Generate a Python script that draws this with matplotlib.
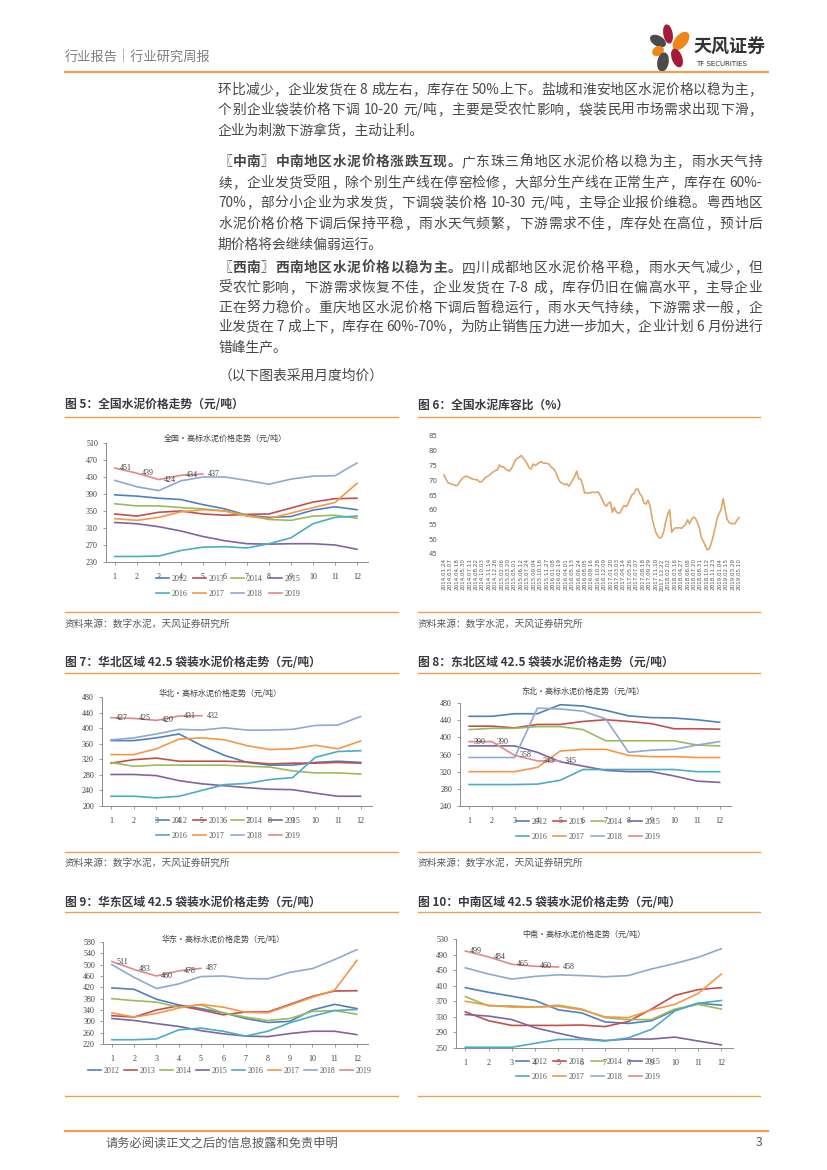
import re
import numpy as np
import matplotlib
matplotlib.use('Agg')
import matplotlib.pyplot as plt
from matplotlib.patches import Ellipse
from matplotlib.lines import Line2D

plt.rcParams['font.family'] = ['Noto Sans CJK SC', 'DejaVu Sans']

# ---------------- data ----------------
months = list(range(1, 13))
years = ['2012', '2013', '2014', '2015', '2016', '2017', '2018', '2019']
year_colors = ['#4F81BD', '#C0504D', '#9BBB59', '#8064A2',
               '#4BACC6', '#F79646', '#8EA9D2', '#E0898B']

# 全国 (2012 ... 2019)
national = [
    [388, 385, 380, 377, 365, 355, 340, 335, 337, 352, 360, 353],
    [343, 338, 347, 350, 343, 340, 342, 343, 357, 371, 379, 380],
    [367, 362, 362, 358, 355, 350, 340, 330, 328, 338, 340, 333],
    [323, 320, 313, 303, 290, 280, 273, 272, 273, 273, 270, 260],
    [243, 243, 244, 257, 265, 266, 263, 273, 287, 320, 335, 338],
    [332, 328, 335, 348, 353, 350, 338, 332, 345, 358, 370, 415],
    [422, 407, 398, 421, 430, 430, 422, 413, 425, 432, 433, 463],
    [451, 439, 424, 434, 437],
]
# 华北
north = [
    [368, 368, 375, 385, 355, 330, 312, 305, 305, 312, 315, 312],
    [310, 319, 323, 315, 315, 315, 313, 308, 310, 310, 312, 310],
    [312, 302, 305, 305, 305, 305, 302, 300, 290, 285, 285, 282],
    [281, 281, 278, 265, 257, 252, 247, 243, 242, 233, 225, 225],
    [225, 225, 221, 225, 240, 255, 258, 268, 273, 325, 340, 342],
    [332, 332, 347, 372, 375, 370, 355, 345, 347, 356, 347, 367],
    [370, 375, 385, 397, 395, 401, 395, 395, 397, 407, 408, 430],
    [427, 425, 420, 431, 432],
]
# 东北
northeast = [
    [449, 449, 455, 455, 476, 473, 463, 450, 446, 445, 441, 435],
    [426, 426, 422, 430, 430, 437, 441, 437, 432, 420, 420, 419],
    [418, 421, 421, 425, 425, 418, 392, 392, 392, 392, 382, 380],
    [380, 380, 380, 365, 343, 333, 323, 320, 320, 310, 298, 295],
    [290, 290, 290, 291, 300, 325, 325, 325, 325, 325, 320, 320],
    [320, 320, 320, 330, 368, 372, 372, 358, 355, 355, 353, 353],
    [353, 353, 353, 468, 466, 461, 443, 365, 370, 372, 382, 390],
    [390, 390, 358, 345, 345],
]
# 华东
east = [
    [418, 413, 378, 358, 345, 330, 310, 296, 300, 340, 360, 345],
    [320, 315, 340, 355, 340, 323, 333, 333, 360, 388, 407, 408],
    [380, 373, 368, 350, 358, 330, 315, 303, 310, 335, 338, 325],
    [310, 303, 292, 282, 267, 256, 248, 246, 257, 265, 265, 253],
    [235, 235, 238, 270, 276, 265, 248, 265, 295, 318, 338, 342],
    [330, 315, 328, 347, 360, 350, 332, 330, 357, 385, 410, 515],
    [500, 455, 416, 432, 458, 460, 451, 450, 473, 486, 518, 553],
    [511, 483, 460, 478, 487],
]
# 中南
central_south = [
    [405, 393, 383, 372, 348, 340, 317, 313, 320, 347, 365, 360],
    [343, 320, 308, 308, 308, 309, 305, 318, 350, 385, 400, 405],
    [382, 358, 358, 355, 360, 350, 328, 323, 323, 350, 362, 350],
    [336, 332, 323, 302, 288, 275, 269, 273, 273, 278, 268, 258],
    [252, 252, 252, 262, 272, 272, 268, 276, 298, 345, 365, 372],
    [370, 360, 355, 355, 357, 348, 330, 328, 348, 362, 390, 440],
    [456, 440, 427, 434, 438, 436, 433, 436, 453, 467, 483, 505],
    [499, 484, 465, 460, 458],
]

# 全国水泥库容比 (%)
inventory = [
    71.8, 70.4, 69.2, 68.9, 68.6, 68.5, 68.1, 68.4, 69.6, 70.4,
    71.0, 71.4, 71.2, 70.9, 70.5, 70.3, 70.2, 70.1, 69.4, 69.5,
    70.3, 71.0, 71.3, 71.8, 72.4, 72.9, 73.3, 73.5, 75.2, 74.5,
    74.6, 73.9, 73.4, 73.1, 73.9, 75.2, 76.7, 77.4, 77.8, 78.4,
    77.5, 76.7, 75.6, 74.2, 73.8, 75.5, 75.0, 75.4, 76.0, 76.3,
    75.9, 75.8, 75.7, 75.5, 74.5, 74.1, 73.3, 71.8, 70.1, 69.2,
    68.9, 68.5, 68.8, 68.0, 68.9, 70.2, 71.2, 73.1, 70.5, 70.4,
    68.6, 65.7, 65.8, 65.6, 65.8, 66.0, 65.8, 65.9, 66.0, 64.7,
    63.4, 61.8, 61.2, 62.2, 62.6, 59.2, 60.8, 59.3, 58.8, 59.0,
    60.5, 61.4, 61.0, 62.1, 63.7, 65.1, 65.5, 67.0, 67.0, 65.3,
    64.5, 62.3, 61.9, 63.2, 61.5, 57.5, 54.6, 52.4, 51.1, 50.4,
    50.7, 52.7, 56.0, 58.5, 60.0, 52.4, 53.4, 53.9, 53.8, 53.9,
    53.7, 54.4, 55.0, 56.6, 55.2, 56.7, 57.5, 57.1, 55.6, 53.8,
    50.5, 49.3, 47.7, 46.4, 46.8, 48.7, 51.1, 54.0, 57.3, 58.7,
    60.2, 63.8, 60.0, 56.8, 55.7, 55.3, 55.3, 55.3, 56.5, 57.3,
]
inventory_dates = [
    '2014.01.24', '2014.03.07', '2014.04.18', '2014.05.30', '2014.07.11',
    '2014.08.22', '2014.10.03', '2014.11.14', '2014.12.26', '2015.02.06',
    '2015.03.20', '2015.05.01', '2015.06.12', '2015.07.24', '2015.09.04',
    '2015.10.16', '2015.11.27', '2016.01.08', '2016.02.19', '2016.04.01',
    '2016.05.13', '2016.06.24', '2016.08.05', '2016.09.16', '2016.10.28',
    '2016.12.09', '2017.01.20', '2017.03.03', '2017.04.14', '2017.05.26',
    '2017.07.07', '2017.08.18', '2017.09.29', '2017.11.10', '2017.12.22',
    '2018.02.02', '2018.03.16', '2018.04.27', '2018.06.08', '2018.07.20',
    '2018.08.31', '2018.10.12', '2018.11.23', '2019.01.04', '2019.02.15',
    '2019.03.29', '2019.05.10',
]

paragraphs = [
    [[('环比减少，企业发货在 8 成左右，库存在 50%上下。盐城和淮安地区水泥价格以稳为主，', 'normal')],
     [('个别企业袋装价格下调 10-20 元/吨，主要是受农忙影响，袋装民用市场需求出现下滑，', 'normal')],
     [('企业为刺激下游拿货，主动让利。', 'normal')]],
    [[('〖中南〗中南地区水泥价格涨跌互现。', 'bold'), ('广东珠三角地区水泥价格以稳为主，雨水天气持', 'normal')],
     [('续，企业发货受阻，除个别生产线在停窑检修，大部分生产线在正常生产，库存在 60%-', 'normal')],
     [('70%，部分小企业为求发货，下调袋装价格 10-30 元/吨，主导企业报价维稳。粤西地区', 'normal')],
     [('水泥价格价格下调后保持平稳，雨水天气频繁，下游需求不佳，库存处在高位，预计后', 'normal')],
     [('期价格将会继续偏弱运行。', 'normal')]],
    [[('〖西南〗西南地区水泥价格以稳为主。', 'bold'), ('四川成都地区水泥价格平稳，雨水天气减少，但', 'normal')],
     [('受农忙影响，下游需求恢复不佳，企业发货在 7-8 成，库存仍旧在偏高水平，主导企业', 'normal')],
     [('正在努力稳价。重庆地区水泥价格下调后暂稳运行，雨水天气持续，下游需求一般，企', 'normal')],
     [('业发货在 7 成上下，库存在 60%-70%，为防止销售压力进一步加大，企业计划 6 月份进行', 'normal')],
     [('错峰生产。', 'normal')]],
]
para_rows = [[90, 110, 130], [162, 183, 203, 224, 245], [268, 288, 308, 327, 347]]

# ---------------- page ----------------
W, H = 827, 1170
ORANGE = '#EFA04C'
TXT = '#404040'
BODY = '#474747'
fig = plt.figure(figsize=(W / 100, H / 100), dpi=100)
bg = fig.add_axes([0, 0, 1, 1])
bg.set_xlim(0, W)
bg.set_ylim(H, 0)
bg.axis('off')
renderer = fig.canvas.get_renderer()


def px_axes(l, t, r, b):
    return fig.add_axes([l / W, 1 - b / H, (r - l) / W, (b - t) / H])


def rich(x, y, parts, size, color=TXT):
    t = bg.text(x, y, parts[0][0], fontsize=size, fontweight=parts[0][1],
                color=color, va='center', ha='left')
    for s, w in parts[1:]:
        t = bg.annotate(s, xy=(1, 0), xycoords=t, va='bottom', ha='left',
                        fontsize=size, fontweight=w, color=color)


def justified(x0, x1, y, parts, size, color=BODY):
    # one text per CJK glyph / ascii run, spread evenly over [x0, x1]
    items = []
    for s, w in parts:
        for tok in re.findall(r'[A-Za-z0-9%\-\./]+|\s|.', s):
            if tok.isspace():
                items.append((None, 3.5))
            else:
                t = bg.text(0, y, tok, fontsize=size, fontweight=w, color=color,
                            va='center', ha='left')
                items.append((t, t.get_window_extent(renderer).width))
    gap = (x1 - x0 - sum(w for _, w in items)) / (len(items) - 1)
    x = x0
    for t, w in items:
        if t is not None:
            t.set_x(x)
        x += w + gap


# header
bg.text(65, 57, '行业报告｜行业研究周报', fontsize=9.5, color='#808080', va='center')
bg.plot([65, 768], [72, 72], color=ORANGE, lw=1.6)
for (cx, cy, w, h, a, c) in [(668, 34, 8, 18, -10, '#A6193C'),
                             (681, 41, 11, 20, 40, '#F08519'),
                             (658, 41, 9, 16, -60, '#4B4B4B'),
                             (658, 51, 8, 11, 60, '#F08519'),
                             (663, 62, 10, 18, 10, '#4B4B4B'),
                             (677, 58, 9, 18, -20, '#A6193C')]:
    bg.add_patch(Ellipse((cx, cy), w, h, angle=a, color=c))
bg.text(694, 47, '天风证券', fontsize=13, fontweight='bold', color='#333333', va='center')
bg.text(696, 64, 'TF SECURITIES', fontsize=5, color='#333333', va='center',
        family='DejaVu Sans')

# body text
for lines, rows in zip(paragraphs, para_rows):
    for i, (parts, y) in enumerate(zip(lines, rows)):
        if i < len(lines) - 1:
            justified(218, 762, y, parts, 9.9)
        else:
            rich(218, y, parts, 9.9, color=BODY)
rich(218, 376, [('（以下图表采用月度均价）', 'normal')], 9.9, color=BODY)

# figure captions, rules and sources
captions = [(65, 405, '图 5：全国水泥价格走势（元/吨）'),
            (418, 405, '图 6：全国水泥库容比（%）'),
            (65, 663, '图 7：华北区域 42.5 袋装水泥价格走势（元/吨）'),
            (418, 663, '图 8：东北区域 42.5 袋装水泥价格走势（元/吨）'),
            (65, 902, '图 9：华东区域 42.5 袋装水泥价格走势（元/吨）'),
            (418, 902, '图 10：中南区域 42.5 袋装水泥价格走势（元/吨）')]
for x, y, s in captions:
    bg.text(x, y, s, fontsize=8.5, fontweight='bold', color='#3A3A3A', va='center')
for y in [417, 612, 673, 852, 912, 1096]:
    bg.plot([65, 398], [y, y], color=ORANGE, lw=1.0)
    bg.plot([418, 760], [y, y], color=ORANGE, lw=1.0)
for x in [65, 418]:
    for y in [624, 863]:
        bg.text(x, y, '资料来源：数字水泥，天风证券研究所', fontsize=7, color='#595959', va='center')

# footer
bg.plot([65, 768], [1131, 1131], color=ORANGE, lw=1.6)
bg.text(105, 1143, '请务必阅读正文之后的信息披露和免责申明', fontsize=8.8, color='#595959', va='center')
bg.text(762, 1143, '3', fontsize=8.8, color='#595959', va='center', ha='right')


# ---------------- price charts ----------------
def price_chart(rect, series, ylim, title, title_xy, legend_xy, ncol=4, colspace=0.75):
    ax = px_axes(*rect)
    for vals, c in zip(series, year_colors):
        ax.plot(months[:len(vals)], vals, color=c, lw=1.2)
    for m, v in zip(months, series[-1]):
        ax.annotate(str(v), (m, v), xytext=(3.5, 0), textcoords='offset points',
                    ha='left', va='center', fontsize=5.8, family='Liberation Serif',
                    color=TXT)
    ax.set_xlim(0.6, 12.5)
    ax.set_ylim(*ylim)
    ax.set_yticks(np.arange(ylim[0], ylim[1] + 1, 40))
    ax.set_xticks(months)
    for side in ['top', 'right']:
        ax.spines[side].set_visible(False)
    for side in ['left', 'bottom']:
        ax.spines[side].set_color('#8C8C8C')
        ax.spines[side].set_linewidth(0.7)
    ax.tick_params(direction='out', length=2.5, width=0.6, color='#8C8C8C',
                   labelsize=5.8, labelcolor=TXT, labelfontfamily='Liberation Serif')
    ax.tick_params(axis='x', pad=5.5)
    ax.tick_params(axis='y', pad=3.3)
    ax.patch.set_alpha(0)
    bg.text(title_xy[0], title_xy[1], title, fontsize=5.8, color=TXT, ha='center', va='center')
    handles = [Line2D([], [], color=c, lw=1.2) for c in year_colors]
    if ncol == 4:
        order = [0, 4, 1, 5, 2, 6, 3, 7]
    else:
        order = list(range(8))
    ax.legend([handles[i] for i in order], [years[i] for i in order], ncol=ncol,
              loc='center', bbox_to_anchor=(legend_xy[0] / W, 1 - legend_xy[1] / H),
              bbox_transform=fig.transFigure, frameon=False,
              prop={'family': 'Liberation Serif', 'size': 5.8}, labelcolor='#595959',
              handlelength=1.6, handletextpad=0.35, columnspacing=colspace,
              labelspacing=0.85, borderpad=0)
    return ax


price_chart((106, 443, 368, 562), national, (230, 510), '全国·高标水泥价格走势（元/吨）',
            (225, 438), (228, 586.5))
price_chart((102, 697, 372, 806), north, (200, 480), '华北·高标水泥价格走势（元/吨）',
            (220, 693), (228, 828.5))
price_chart((460, 703, 731, 806), northeast, (240, 480), '东北·高标水泥价格走势（元/吨）',
            (583, 691), (588, 829.5))
price_chart((103, 942, 368, 1044), east, (220, 580), '华东·高标水泥价格走势（元/吨）',
            (223, 939), (230, 1071), ncol=8, colspace=0.55)
price_chart((456, 939, 733, 1048), central_south, (250, 530), '中南·高标水泥价格走势（元/吨）',
            (584, 934), (588, 1069.5))

# ---------------- inventory chart ----------------
ax6 = px_axes(443, 436, 740, 554)
idx = np.arange(len(inventory))
ax6.plot(idx, inventory, color='#E3A46B', lw=1.2)
ax6.set_xlim(-0.5, len(inventory) - 0.5)
ax6.set_ylim(45, 85)
ax6.set_yticks(np.arange(45, 86, 5))
ax6.set_xticks(np.linspace(0, len(inventory) - 1, len(inventory_dates)), inventory_dates,
               rotation=90)
for s in ax6.spines.values():
    s.set_visible(False)
ax6.tick_params(length=0, labelcolor='#595959', labelfontfamily='DejaVu Sans')
ax6.tick_params(axis='y', labelsize=5, pad=4)
ax6.tick_params(axis='x', labelsize=4.1, pad=3)
ax6.patch.set_alpha(0)

fig.savefig('out.png', dpi=100)
